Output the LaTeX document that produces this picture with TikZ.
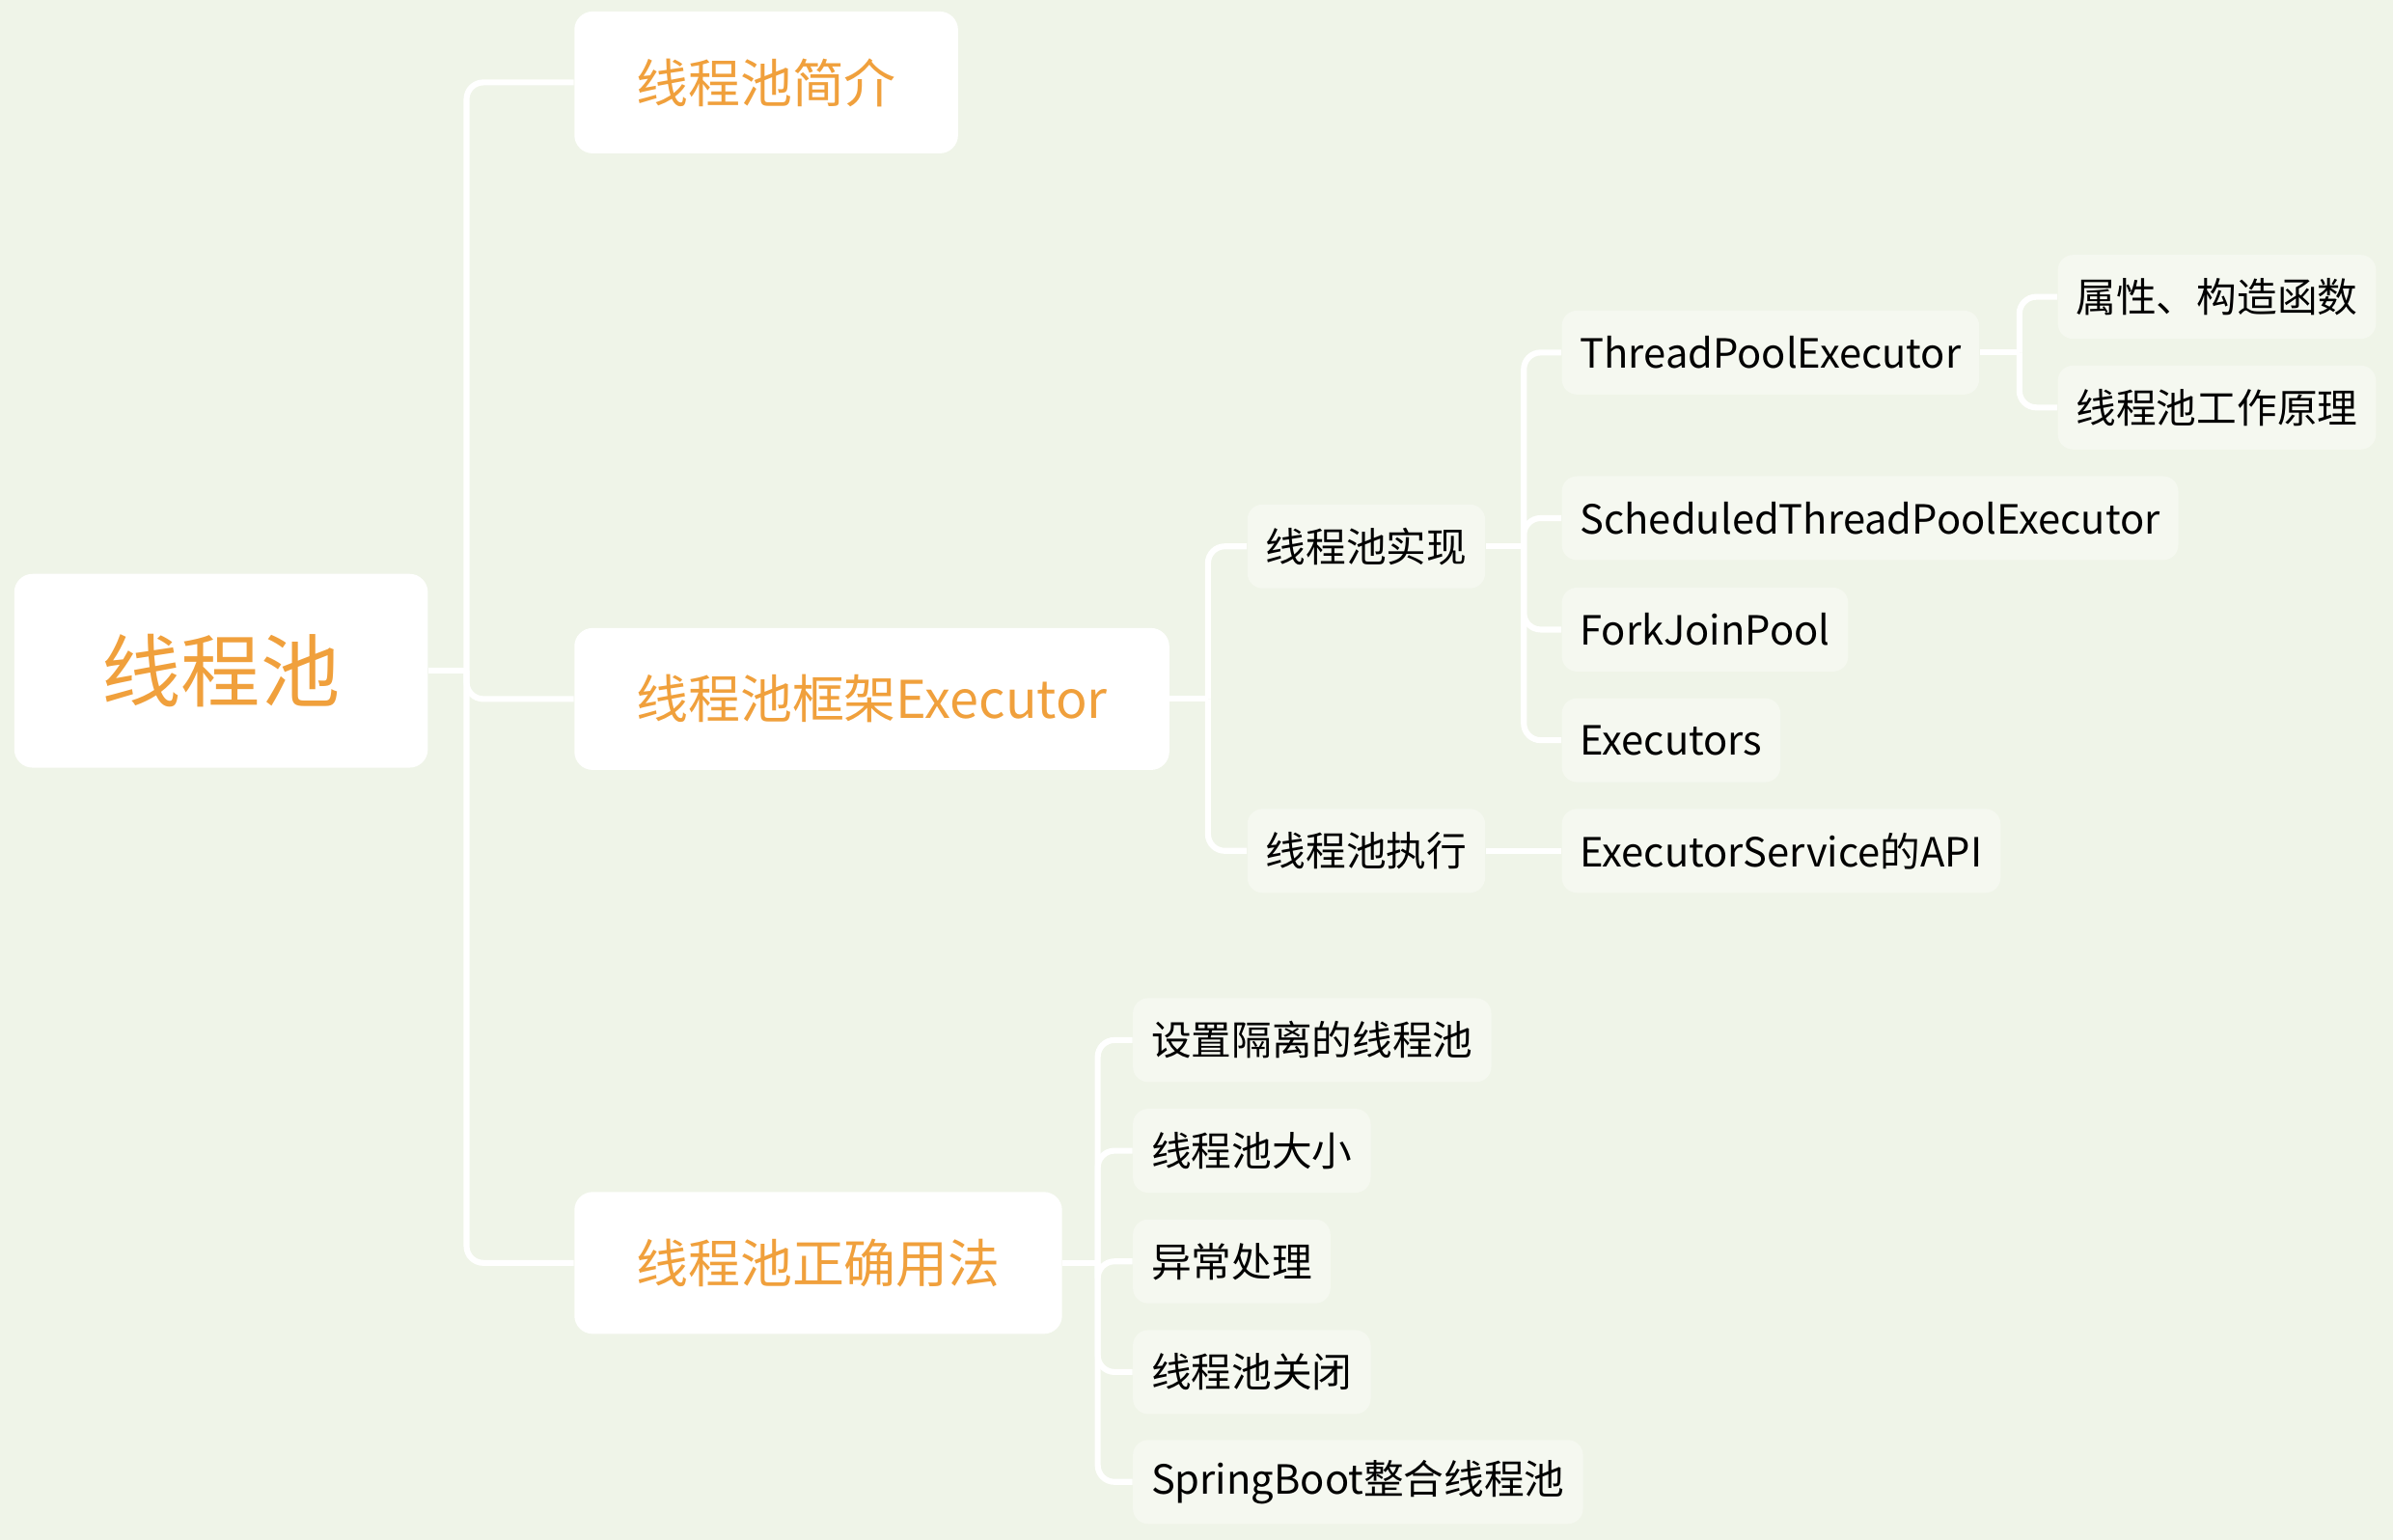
\documentclass[tikz,border=0pt]{standalone}
\usepackage{fontspec}
\setmainfont{Noto Sans CJK SC}
\usetikzlibrary{positioning}
\definecolor{bgcol}{HTML}{EFF4E8}
\definecolor{leafcol}{HTML}{F5F8F0}
\definecolor{orangecol}{HTML}{F0A03C}
\begin{document}
\begin{tikzpicture}[x=0.02cm, y=-0.02cm,
	rootbox/.style={anchor=west, fill=white, rounded corners=0.24cm, inner xsep=1.15cm, minimum height=2.54cm, text=orangecol, font=\fontsize{29.6}{34}\selectfont},
	topic/.style={anchor=west, fill=white, rounded corners=0.24cm, inner xsep=0.81cm, minimum height=1.86cm, text=orangecol, font=\fontsize{19.4}{23}\selectfont},
	leaf/.style={anchor=west, fill=leafcol, rounded corners=0.2cm, inner xsep=0.24cm, minimum height=1.1cm, text=black, font=\fontsize{15}{18}\selectfont},
	link/.style={draw=white, line width=2.2pt, rounded corners=0.22cm}]
	\fill[bgcol] (0,0) rectangle (1568,1009);
	\useasboundingbox (0,0) rectangle (1568,1009);
	% main topic and first level
	\node (root)  at (9, 439.5)    [rootbox]	{线程池};
	\node (intro) at (376, 54)     [topic]	{线程池简介};
	\node (exec)  at (376, 458)    [topic]	{线程池框架Executor};
	\node (usage) at (376, 827.5)  [topic]	{线程池正确用法};
	% under Executor
	\node (impl)  at (817, 358)    [leaf]	{线程池实现};
	\node (run)   at (817, 557.5)  [leaf]	{线程池执行};
	\node (tpe)   at (1023, 231)   [leaf]	{ThreadPoolExecutor};
	\node (stpe)  at (1023, 339.5) [leaf]	{ScheduledThreadPoolExecutor};
	\node (fjp)   at (1023, 412.5) [leaf]	{ForkJoinPool};
	\node (exs)   at (1023, 485)   [leaf]	{Executors};
	\node (api)   at (1023, 557.5) [leaf]	{ExecutorService的API};
	\node (attr)  at (1348, 194.5) [leaf]	{属性、构造函数};
	\node (work)  at (1348, 267)   [leaf]	{线程池工作原理};
	% under usage
	\node (iso)   at (742, 681.5)  [leaf]	{设置隔离的线程池};
	\node (size)  at (742, 754)    [leaf]	{线程池大小};
	\node (exc)   at (742, 826.5)  [leaf]	{异常处理};
	\node (shut)  at (742, 899)    [leaf]	{线程池关闭};
	\node (boot)  at (742, 971)    [leaf]	{SpringBoot整合线程池};
	% connectors
	\draw[link] (root.east) -- ++(25,0) coordinate (j0);
	\foreach \c in {intro, exec, usage}
		\draw[link] (j0) |- (\c.west);
	\draw[link] (exec.east) -- ++(25,0) coordinate (j1);
	\foreach \c in {impl, run}
		\draw[link] (j1) |- (\c.west);
	\draw[link] (impl.east) -- ++(25,0) coordinate (j2);
	\foreach \c in {tpe, stpe, fjp, exs}
		\draw[link] (j2) |- (\c.west);
	\draw[link] (run.east) -- (api.west);
	\draw[link] (tpe.east) -- ++(26,0) coordinate (j3);
	\foreach \c in {attr, work}
		\draw[link] (j3) |- (\c.west);
	\draw[link] (usage.east) -- ++(23,0) coordinate (j4);
	\foreach \c in {iso, size, exc, shut, boot}
		\draw[link] (j4) |- (\c.west);
\end{tikzpicture}
\end{document}
